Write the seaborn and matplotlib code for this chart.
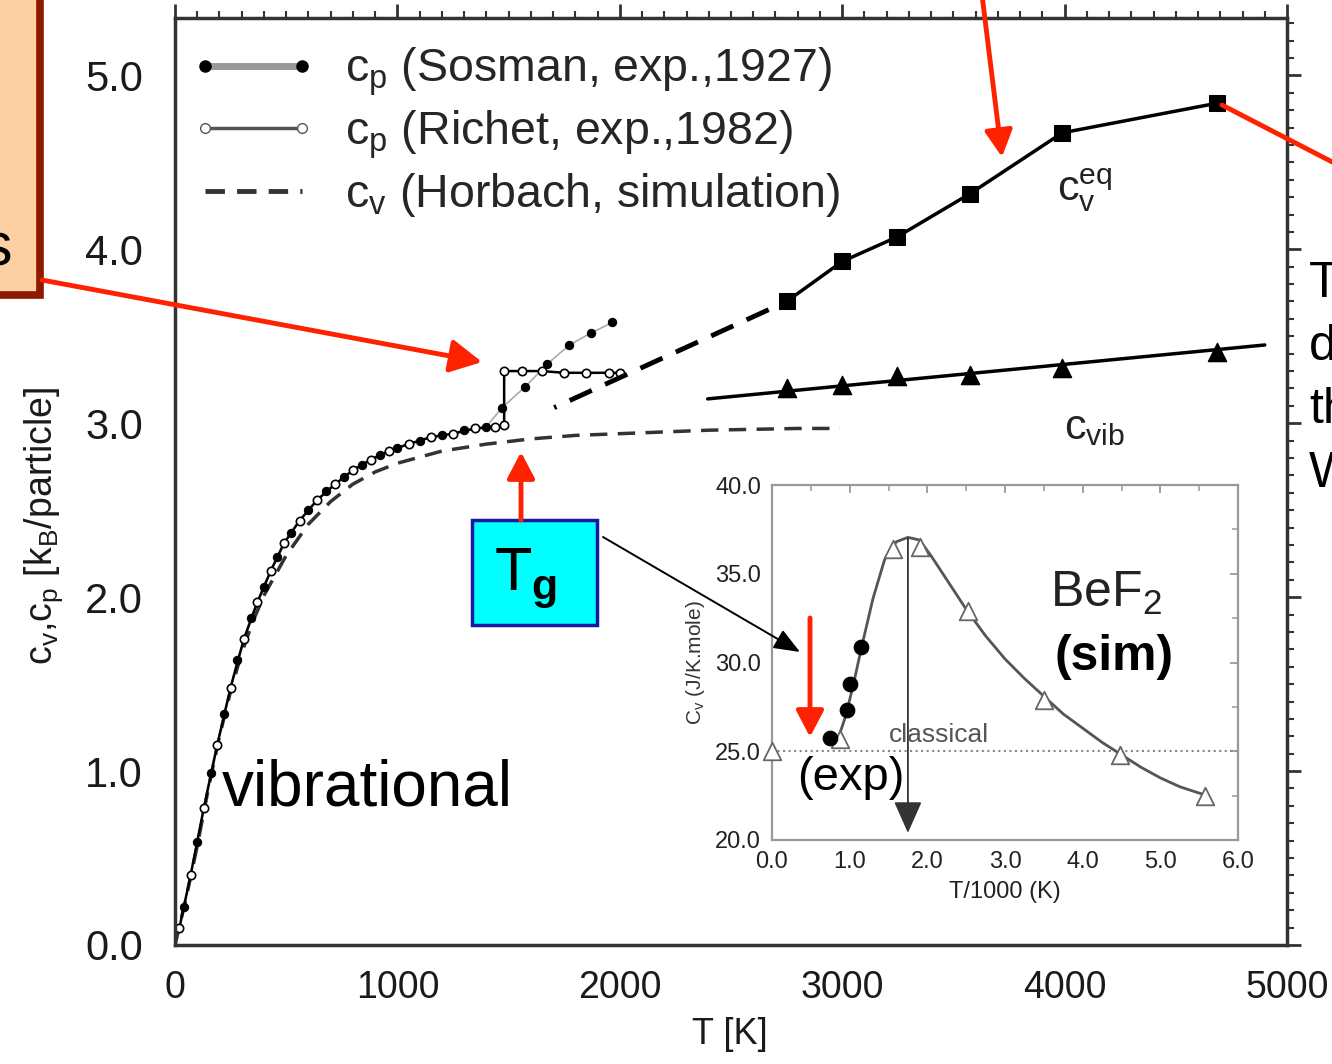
import numpy as np
import pandas as pd
import seaborn as sns
import matplotlib.pyplot as plt
from matplotlib.lines import Line2D
from matplotlib.patches import Rectangle, FancyArrowPatch
from matplotlib.ticker import MultipleLocator, FormatStrFormatter

W, H = 1332, 1064

# ---- main panel: SiO2 heat capacity (T in K, c in kB/particle) ----
sosman_T = [40, 100, 160, 220, 280, 340, 400, 460, 520, 600, 680, 760, 840, 920,
            1000, 1100, 1200, 1300, 1400, 1471, 1575, 1674, 1773, 1872, 1967]
sosman_c = [0.22, 0.59, 0.99, 1.33, 1.64, 1.88, 2.06, 2.23, 2.37, 2.50, 2.61, 2.69, 2.76, 2.82,
            2.86, 2.90, 2.93, 2.96, 2.98, 3.09, 3.21, 3.34, 3.45, 3.52, 3.58]

richet_T = [20, 70, 130, 190, 250, 310, 370, 430, 490, 560, 640, 720, 800, 880, 960,
            1050, 1150, 1250, 1350, 1440, 1480, 1480, 1560, 1650, 1750, 1850, 1950, 2000]
richet_c = [0.10, 0.40, 0.79, 1.15, 1.48, 1.76, 1.97, 2.15, 2.31, 2.44, 2.56, 2.65, 2.73, 2.79, 2.84,
            2.88, 2.92, 2.94, 2.97, 2.98, 2.99, 3.30, 3.30, 3.30, 3.29, 3.29, 3.29, 3.29]

horbach_T = [0, 50, 100, 150, 200, 250, 300, 350, 400, 500, 600, 700, 800, 900, 1000,
             1200, 1400, 1600, 1800, 2000, 2400, 2800, 2990]
horbach_c = [0.0, 0.27, 0.57, 0.90, 1.20, 1.46, 1.68, 1.86, 2.01, 2.24, 2.42, 2.55, 2.65, 2.72, 2.77,
             2.84, 2.88, 2.91, 2.93, 2.94, 2.96, 2.97, 2.97]

ext_T = [1705, 2750]
ext_c = [3.09, 3.70]

eq_T = [2750, 3000, 3245, 3575, 3990, 4685]
eq_c = [3.70, 3.93, 4.07, 4.32, 4.67, 4.84]

vib_T = [2750, 3000, 3245, 3575, 3990, 4685]
vib_c = [3.20, 3.22, 3.27, 3.28, 3.32, 3.41]
vib_line_T = [2395, 4900]
vib_line_c = [3.14, 3.45]

# ---- inset: BeF2 ----
bef_exp_T = [0.75, 0.96, 1.01, 1.14]
bef_exp_c = [25.75, 27.3, 28.8, 30.85]
bef_sim_T = [0.0, 0.88, 1.56, 1.90, 2.53, 3.50, 4.48, 5.58]
bef_sim_c = [25.0, 25.7, 36.4, 36.5, 32.9, 27.9, 24.8, 22.5]
bef_fit_T = [0.85, 0.95, 1.05, 1.15, 1.30, 1.45, 1.60, 1.75, 1.90, 2.05, 2.20, 2.35, 2.50,
             2.75, 3.00, 3.25, 3.50, 3.75, 4.00, 4.25, 4.50, 4.75, 5.00, 5.25, 5.60]
bef_fit_c = [25.7, 27.0, 28.8, 30.8, 33.6, 35.8, 36.8, 37.05, 36.9, 36.0, 35.0, 34.0, 33.0,
             31.5, 30.2, 29.1, 28.1, 27.1, 26.3, 25.5, 24.8, 24.1, 23.5, 23.0, 22.5]

legend_labels = [r'c$_p$ (Sosman, exp.,1927)', r'c$_p$ (Richet, exp.,1982)',
                 r'c$_v$ (Horbach, simulation)']

sns.set_theme(style='white')
plt.rcParams['font.family'] = ['Liberation Sans', 'DejaVu Sans']
plt.rcParams['mathtext.fontset'] = 'custom'
plt.rcParams['mathtext.rm'] = 'Liberation Sans'
plt.rcParams['mathtext.it'] = 'Liberation Sans'
plt.rcParams['mathtext.bf'] = 'Liberation Sans:bold'
plt.rcParams['mathtext.default'] = 'regular'


def fp(x, y):
    # pixel (top-left origin) -> figure fraction
    return (x / W, 1 - y / H)


fig = plt.figure(figsize=(W / 100, H / 100), dpi=100, facecolor='white')
ax = fig.add_axes([175 / W, 1 - 945 / H, (1287 - 175) / W, (945 - 18) / H])

sns.lineplot(x=horbach_T, y=horbach_c, ax=ax, color='#333333', lw=2.5,
             linestyle=(0, (5, 3)), sort=False, estimator=None)
sns.lineplot(x=sosman_T, y=sosman_c, ax=ax, color='#aaaaaa', lw=1.2, marker='o', markersize=6,
             markerfacecolor='black', markeredgecolor='black', sort=False, estimator=None)
sns.lineplot(x=richet_T, y=richet_c, ax=ax, color='black', lw=1.8, marker='o', markersize=6,
             markerfacecolor='white', markeredgecolor='black', markeredgewidth=1.2,
             sort=False, estimator=None)
sns.lineplot(x=ext_T, y=ext_c, ax=ax, color='black', lw=3.5, linestyle=(4.5, (5, 3)))
sns.lineplot(x=eq_T, y=eq_c, ax=ax, color='black', lw=2.5, marker='s', markersize=11,
             markeredgecolor='black', sort=False, estimator=None)
sns.lineplot(x=vib_line_T, y=vib_line_c, ax=ax, color='black', lw=2.5)
sns.scatterplot(x=vib_T, y=vib_c, ax=ax, marker='^', s=170, color='black', edgecolor='black', zorder=5)

ax.set_xlim(0, 5000)
ax.set_ylim(0, 5.33)
ax.xaxis.set_major_locator(MultipleLocator(1000))
ax.xaxis.set_minor_locator(MultipleLocator(100))
ax.yaxis.set_major_locator(MultipleLocator(1.0))
ax.yaxis.set_minor_locator(MultipleLocator(0.1))
ax.yaxis.set_major_formatter(FormatStrFormatter('%.1f'))
ax.tick_params(which='both', direction='out', top=True, right=True, color='#333333',
               labelsize=27, labelcolor='#1a1a1a')
ax.tick_params(which='major', length=10, width=2, pad=8)
ax.tick_params(axis='y', which='major', labelsize=30, pad=13)
ax.tick_params(which='minor', length=5, width=1.5)
for s in ax.spines.values():
    s.set_linewidth(2.5)
    s.set_color('#333333')

ax.set_xlabel('T [K]', fontsize=26, color='#1a1a1a')
ax.xaxis.set_label_coords(0.499, -0.078)
ax.set_ylabel(r'c$_v$,c$_p$ [k$_B$/particle]', fontsize=27, color='#1a1a1a')
ax.yaxis.set_label_coords(-0.099, 0.452)

handles = [Line2D([0], [0], color='#9a9a9a', lw=5, marker='o', ms=8, mfc='black', mec='black'),
           Line2D([0], [0], color='#555555', lw=2.5, marker='o', ms=7, mfc='white', mec='#555555'),
           Line2D([0], [0], color='#333333', lw=3.5, linestyle=(0, (4, 2.5)))]
ax.legend(handles, legend_labels, loc='upper left', frameon=False, fontsize=33.5, numpoints=2,
          handlelength=2.69, handletextpad=0.62, labelspacing=0.22, borderaxespad=0,
          bbox_to_anchor=(-0.0023, 0.99))

ax.text(4090, 4.34, r'c$_v^{eq}$', fontsize=31, color='#222222', ha='center', va='center')
ax.text(4135, 2.97, r'c$_{vib}$', fontsize=31, color='#222222', ha='center', va='center')

# ---- inset ----
axi = fig.add_axes([772 / W, 1 - 840 / H, (1238 - 772) / W, (840 - 485) / H])
axi.axhline(25.0, color='#888888', lw=1.5, linestyle=':')
sns.lineplot(x=bef_fit_T, y=bef_fit_c, ax=axi, color='#555555', lw=2, sort=False, estimator=None)
sns.scatterplot(x=bef_sim_T, y=bef_sim_c, ax=axi, marker='^', s=160, color='white',
                edgecolor='#666666', linewidth=1.3, zorder=4, clip_on=False)
sns.scatterplot(x=bef_exp_T, y=bef_exp_c, ax=axi, marker='o', s=110, color='black',
                edgecolor='black', zorder=5)
axi.annotate('', xy=(1.75, 20.4), xytext=(1.75, 37.0),
             arrowprops=dict(arrowstyle='-|>,head_length=0.9,head_width=0.4', color='#333333',
                             lw=1.3, mutation_scale=22, shrinkA=0, shrinkB=0))
axi.text(1.5, 25.25, 'classical', fontsize=19, color='#555555', ha='left', va='bottom')
axi.set_xlim(0, 6)
axi.set_ylim(20, 40)
axi.xaxis.set_major_locator(MultipleLocator(1.0))
axi.xaxis.set_minor_locator(MultipleLocator(0.5))
axi.yaxis.set_major_locator(MultipleLocator(5.0))
axi.yaxis.set_minor_locator(MultipleLocator(2.5))
axi.xaxis.set_major_formatter(FormatStrFormatter('%.1f'))
axi.yaxis.set_major_formatter(FormatStrFormatter('%.1f'))
axi.tick_params(which='both', direction='in', top=True, right=True, color='#999999',
                labelsize=17, labelcolor='#222222')
axi.tick_params(which='major', length=6, width=1.3, pad=8)
axi.tick_params(which='minor', length=4, width=1.1)
for s in axi.spines.values():
    s.set_linewidth(1.6)
    s.set_color('#999999')
axi.set_xlabel('T/1000 (K)', fontsize=17, color='#222222', labelpad=6)
axi.set_ylabel(r'C$_v$ (J/K.mole)', fontsize=15, color='#333333', labelpad=6)
axi.text(4.3, 33.9, r'BeF$_2$', fontsize=36, color='#222222', ha='center', va='center')
axi.text(4.4, 30.3, '(sim)', fontsize=36, fontweight='bold', color='black', ha='center', va='center')

# ---- slide annotations (figure level) ----
fig.add_artist(Rectangle(fp(-30, 295), 70 / W, 340 / H, transform=fig.transFigure,
                         facecolor='#fcd0a3', edgecolor='#8b1a00', lw=5.5))
fig.text(*fp(12, 265), 's', fontsize=44, ha='right', va='baseline', color='black')

fig.add_artist(Rectangle(fp(472, 625), 125 / W, 105 / H, transform=fig.transFigure,
                         facecolor='#00ffff', edgecolor='#1a1aa0', lw=2.5))
fig.text(*fp(526, 590), r'T$_\mathbf{g}$', fontsize=44, ha='center', va='baseline', color='black')

fig.text(*fp(222, 805), 'vibrational', fontsize=46, ha='left', va='baseline', color='black')
fig.text(*fp(797, 790), '(exp)', fontsize=34, ha='left', va='baseline', color='black')
for word, yb in zip(['T', 'd', 'th', 'W'], [297, 360, 423, 487]):
    fig.text(*fp(1309, yb), word, fontsize=36, ha='left', va='baseline', color='black')

red = '#ff2200'
red_arrows = [((42, 280), (482, 362), 24), ((982, -5), (1002, 157), 20),
              ((521, 520), (521, 452), 20), ((810, 618), (810, 737), 20)]
for a, b, ms in red_arrows:
    fig.add_artist(FancyArrowPatch(fp(*a), fp(*b), transform=fig.transFigure, color=red, lw=3.5,
                                   arrowstyle='-|>,head_length=0.8,head_width=0.42',
                                   mutation_scale=ms, shrinkA=0, shrinkB=0))
fig.add_artist(Line2D([fp(1222, 105)[0], fp(1340, 166)[0]], [fp(1222, 105)[1], fp(1340, 166)[1]],
                      transform=fig.transFigure, color=red, lw=3.5))
fig.add_artist(FancyArrowPatch(fp(603, 537), fp(800, 652), transform=fig.transFigure, color='black',
                               lw=1.4, arrowstyle='-|>,head_length=1.0,head_width=0.4',
                               mutation_scale=16, shrinkA=0, shrinkB=0))

fig.savefig('out.png', dpi=100, facecolor='white')
